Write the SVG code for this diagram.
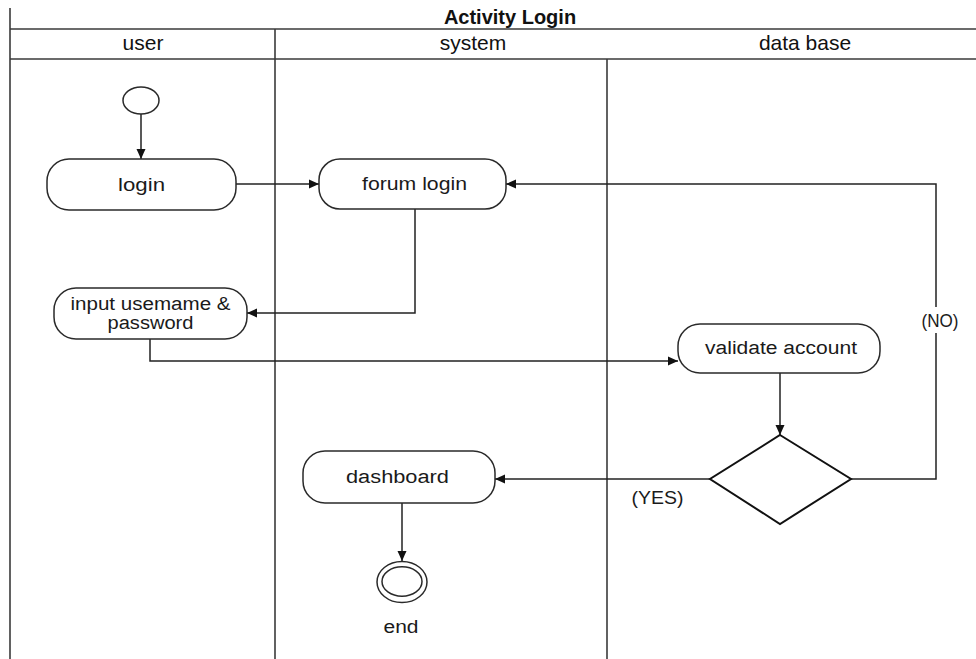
<svg xmlns="http://www.w3.org/2000/svg" width="976" height="659" viewBox="0 0 976 659">
  <style>
    .frame { stroke: #3a3a3a; stroke-width: 1.6; fill: none; }
    .node { fill: #ffffff; stroke: #2a2a2a; stroke-width: 1.5; }
    .decision { fill: #ffffff; stroke: #111111; stroke-width: 2; }
    .edge { fill: none; stroke: #222222; stroke-width: 1.5; }
    .label { font-family: "Liberation Sans", Arial, sans-serif; font-size: 18px; fill: #1a1a1a; text-anchor: middle; }
    .lane { font-family: "Liberation Sans", Arial, sans-serif; font-size: 21px; fill: #111111; text-anchor: middle; }
    .title { font-family: "Liberation Sans", Arial, sans-serif; font-size: 20px; font-weight: bold; fill: #111111; text-anchor: middle; }
  </style>
  <defs>
    <marker id="arrow" viewBox="0 0 10 10" refX="10" refY="5" markerWidth="10" markerHeight="10" markerUnits="userSpaceOnUse" orient="auto">
      <path d="M0,0.5 L10,5 L0,9.5 Z" fill="#111111"/>
    </marker>
  </defs>

  <rect width="976" height="659" fill="#ffffff"/>

  <!-- swimlane frame -->
  <g id="swimlanes">
    <text class="title" x="510" y="24">Activity Login</text>
    <line class="frame" x1="10" y1="8" x2="10" y2="659"/>
    <line class="frame" x1="10" y1="29" x2="976" y2="29"/>
    <line class="frame" x1="10" y1="59" x2="976" y2="59"/>
    <line class="frame" x1="275" y1="29" x2="275" y2="659"/>
    <line class="frame" x1="607" y1="59" x2="607" y2="659"/>
    <text class="lane" x="143" y="50">user</text>
    <text class="lane" x="473" y="50">system</text>
    <text class="lane" x="805" y="50">data base</text>
  </g>

  <!-- connectors -->
  <g id="connectors">
    <path class="edge" d="M141,114 L141,159" marker-end="url(#arrow)"/>
    <path class="edge" d="M236,184 L319,184" marker-end="url(#arrow)"/>
    <path class="edge" d="M415,209 L415,313 L247,313" marker-end="url(#arrow)"/>
    <path class="edge" d="M150,339 L150,361 L678,361" marker-end="url(#arrow)"/>
    <path class="edge" d="M780,373 L780,435" marker-end="url(#arrow)"/>
    <path class="edge" d="M851,479 L936,479 L936,184 L506,184" marker-end="url(#arrow)"/>
    <path class="edge" d="M710,479 L495,479" marker-end="url(#arrow)"/>
    <path class="edge" d="M402,503 L402,561" marker-end="url(#arrow)"/>
    <g id="label-no">
      <rect x="921" y="307" width="38" height="26" fill="#ffffff"/>
      <text class="label" x="940" y="327" font-size="16" textLength="37" lengthAdjust="spacingAndGlyphs">(NO)</text>
    </g>
    <text id="label-yes" class="label" x="657.5" y="504" font-size="17" textLength="52" lengthAdjust="spacingAndGlyphs">(YES)</text>
  </g>

  <!-- nodes -->
  <g id="start">
    <ellipse class="node" cx="141" cy="100.5" rx="18" ry="13.5"/>
  </g>
  <g id="login">
    <rect class="node" x="47" y="159" width="189" height="51" rx="22"/>
    <text class="label" x="141.5" y="191" textLength="47" lengthAdjust="spacingAndGlyphs">login</text>
  </g>
  <g id="forum-login">
    <rect class="node" x="319" y="159" width="187" height="50" rx="21"/>
    <text class="label" x="414.5" y="190" textLength="105" lengthAdjust="spacingAndGlyphs">forum login</text>
  </g>
  <g id="input-credentials">
    <rect class="node" x="54" y="288" width="193" height="51" rx="22"/>
    <text class="label" x="150.5" y="310" font-size="17" textLength="160" lengthAdjust="spacingAndGlyphs">input usemame &amp;</text>
    <text class="label" x="150.5" y="329" font-size="17" textLength="86" lengthAdjust="spacingAndGlyphs">password</text>
  </g>
  <g id="validate-account">
    <rect class="node" x="678" y="324" width="202" height="49" rx="22"/>
    <text class="label" x="781" y="354" textLength="152" lengthAdjust="spacingAndGlyphs">validate account</text>
  </g>
  <g id="decision">
    <polygon class="decision" points="780,435 851,479 780,524 710,479"/>
  </g>
  <g id="dashboard">
    <rect class="node" x="303" y="451" width="192" height="52" rx="22"/>
    <text class="label" x="397.5" y="483" textLength="103" lengthAdjust="spacingAndGlyphs">dashboard</text>
  </g>
  <g id="end">
    <ellipse class="node" cx="402" cy="582" rx="25" ry="20.5"/>
    <ellipse class="node" cx="402" cy="581.5" rx="20" ry="14.7"/>
    <text class="label" x="401" y="633" textLength="35" lengthAdjust="spacingAndGlyphs">end</text>
  </g>
</svg>
